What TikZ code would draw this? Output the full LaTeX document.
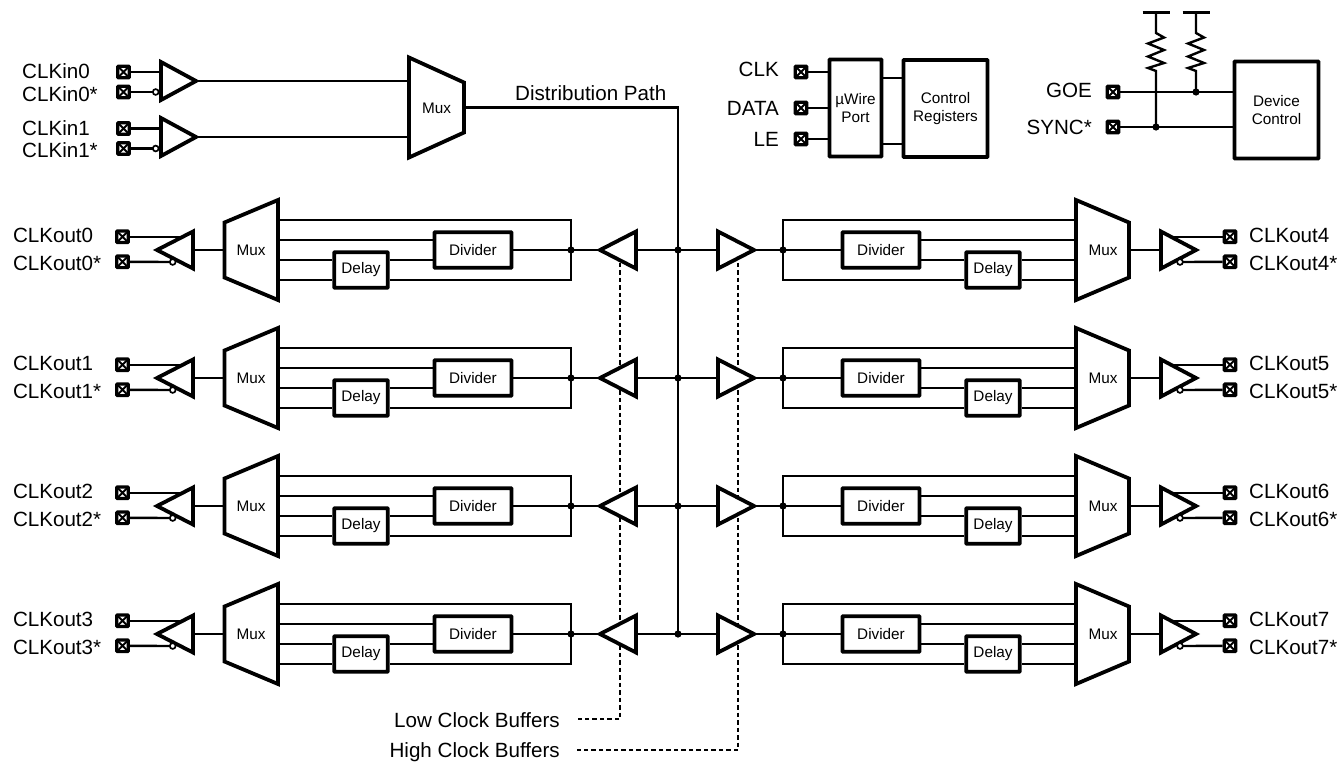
\documentclass[tikz,border=0pt]{standalone}
\usepackage{fontspec}
\setmainfont{Liberation Sans}
\tikzset{
  wire/.style={line width=2.4pt},
  dotted wire/.style={line width=2.7pt, dash pattern=on 4.5pt off 3pt},
  shape line/.style={line width=3.8pt, fill=white, line join=miter},
  bubble/.style={line width=1.7pt, fill=white},
  junction/.style={fill=black},
  lbl/.style={font=\fontsize{20.6}{20.6}\selectfont, inner sep=0pt},
  small/.style={font=\fontsize{15.3}{18.5}\selectfont, inner sep=0pt, align=center},
  block/.style={small, draw, line width=3.8pt, rounded corners=0.6pt},
  pad/.style={draw, line width=3.2pt, rounded corners=0.8pt, minimum size=11.6pt, inner sep=0pt,
    path picture={\draw[line width=1.9pt]
      (path picture bounding box.south west) -- (path picture bounding box.north east)
      (path picture bounding box.north west) -- (path picture bounding box.south east);}}
}
\begin{document}
\begin{tikzpicture}[x=1pt, y=-1pt]
  \useasboundingbox (0,0) rectangle (1340,761);

  % inputs
  \foreach \n/\ya/\yb/\yc/\ba/\bb in {0/72/92/81/78/101, 1/128.5/148.5/137/135/157} {
    \node[lbl, anchor=base west] (inlbl\n) at (22,\ba) {CLKin\n};
    \node[lbl, anchor=base west] (inlblb\n) at (22,\bb) {CLKin\n*};
    \node[pad] (inpad\n) at (123.5,\ya) {};
    \node[pad] (inpadb\n) at (123.5,\yb) {};
    \coordinate (intip\n) at (196,\yc);
    \coordinate (inbub\n) at (155.7,\yb);
    \draw[wire] (inpad\n) -- (161,\ya);
    \draw[wire] (inpadb\n) -- (inbub\n);
    \draw[wire] (intip\n) -- (409,\yc);
    \draw[shape line] (161,\yc-19) -- (intip\n) -- (161,\yc+19) -- cycle;
    \draw[bubble] (inbub\n) circle [radius=2.9];
  }
  \draw[shape line] (409,57.5) -- (464,82.5) -- (464,132.5) -- (409,157.5) -- cycle;
  \node[small] (muxin) at (436.5,108) {Mux};
  \coordinate (muxout) at (464,107.5);
  \coordinate (dist) at (678,107.5);
  \coordinate (distend) at (678,634);
  \draw[wire] (muxout) -- (dist) -- (distend);
  \node[lbl, anchor=base west] (distlbl) at (515,100) {Distribution Path};

  % uWire
  \node[block, minimum width=52pt, minimum height=97pt] (port) at (855.5,108) {µWire\\Port};
  \node[block, minimum width=84pt, minimum height=97pt] (ctrl) at (945.5,108.5) {Control\\Registers};
  \draw[wire] (port.east |- 0,78) -- (ctrl.west |- 0,78);
  \draw[wire] (port.east |- 0,144) -- (ctrl.west |- 0,144);
  \foreach \name/\y/\b in {CLK/72/76.7, DATA/108/115, LE/139/146.7} {
    \node[lbl, anchor=base east] (\name lbl) at (779,\b) {\name};
    \node[pad] (\name pad) at (801,\y) {};
    \draw[wire] (\name pad) -- (port.west |- \name pad);
  }

  % device control
  \node[block, minimum width=84pt, minimum height=97pt] (devctl) at (1276.5,110) {Device\\Control};
  \node[lbl, anchor=base east] (goelbl) at (1092,97) {GOE};
  \node[lbl, anchor=base east] (synclbl) at (1092,134.3) {SYNC*};
  \node[pad] (goepad) at (1113,92) {};
  \node[pad] (syncpad) at (1113,127) {};
  \draw[wire] (goepad) -- (devctl.west |- goepad);
  \draw[wire] (syncpad) -- (devctl.west |- syncpad);
  \foreach \x/\yend in {1156/127, 1196/92} {
    \draw[wire] (\x-13.5,12.3) -- (\x+13.5,12.3);
    \draw[wire, line join=miter] (\x,12.3) -- (\x,33) -- (\x+8,37.5) -- (\x-8,43.5) -- (\x+8,50)
      -- (\x-8,56.5) -- (\x+8,63) -- (\x-8,68) -- (\x,71) -- (\x,\yend);
    \fill[junction] (\x,\yend) circle [radius=3.6];
  }

  % dashed lines go under the buffers
  \coordinate (lowend) at (620,719);
  \coordinate (highend) at (738,750);
  \node[lbl, anchor=base east] (lowlbl) at (560,727) {Low Clock Buffers};
  \node[lbl, anchor=base east] (highlbl) at (560,757.5) {High Clock Buffers};
  \draw[dotted wire] (620,255) -- (lowend) -- (578,719);
  \draw[dotted wire] (738,255) -- (highend) -- (577,750);

  % the eight outputs
  \foreach \r/\s/\yc in {0/4/250, 1/5/378, 2/6/506, 3/7/634} {
    % left half
    \coordinate (mla\r) at (278,\yc-30);
    \coordinate (mlb\r) at (278,\yc-10);
    \coordinate (mlc\r) at (278,\yc+10);
    \coordinate (mld\r) at (278,\yc+30);
    \coordinate (jl\r) at (571,\yc);
    \coordinate (jc\r) at (678,\yc);
    \coordinate (bltip\r) at (600,\yc);
    \coordinate (blbub\r) at (172.7,\yc+12);
    \node[block, minimum width=77pt, minimum height=35.5pt] (divl\r) at (473,\yc) {Divider};
    \node[block, minimum width=53.5pt, minimum height=35.5pt] (dlyl\r) at (361,\yc+20) {Delay};
    \draw[wire] (mla\r) -| (jl\r) |- (mld\r -| dlyl\r.east);
    \draw[wire] (mlb\r) -- (mlb\r -| divl\r.west);
    \draw[wire] (mlc\r) -- (mlc\r -| dlyl\r.west);
    \draw[wire] (mld\r) -- (mld\r -| dlyl\r.west);
    \draw[wire] (mlc\r -| dlyl\r.east) -- (mlc\r -| divl\r.west);
    \draw[wire] (divl\r.east) -- (bltip\r);
    \draw[wire] (jc\r) -- (636,\yc);
    \fill[junction] (jl\r) circle [radius=3.6];
    \fill[junction] (jc\r) circle [radius=3.6];
    \draw[shape line] (636,\yc-18.5) -- (bltip\r) -- (636,\yc+18.5) -- cycle;
    \draw[wire] (224.5,\yc) -- (193,\yc);
    \node[pad] (oplt\r) at (122.5,\yc-13.3) {};
    \node[pad] (oplb\r) at (122.5,\yc+11.8) {};
    \draw[wire] (oplt\r) -- (183,\yc-13.3);
    \draw[wire] (oplb\r) -- (blbub\r);
    \draw[shape line] (193,\yc-18.5) -- (157,\yc) -- (193,\yc+18.5) -- cycle;
    \draw[bubble] (blbub\r) circle [radius=2.9];
    \draw[shape line] (224.5,\yc-27.5) -- (278,\yc-50) -- (278,\yc+50) -- (224.5,\yc+27.5) -- cycle;
    \node[small] (muxl\r) at (251,\yc) {Mux};
    \node[lbl, anchor=base west] (lblt\r) at (12.8,\yc-7.7) {CLKout\r};
    \node[lbl, anchor=base west] (lblb\r) at (12.8,\yc+20.5) {CLKout\r*};
    % right half
    \coordinate (mra\s) at (1076,\yc-30);
    \coordinate (mrb\s) at (1076,\yc-10);
    \coordinate (mrc\s) at (1076,\yc+10);
    \coordinate (mrd\s) at (1076,\yc+30);
    \coordinate (jr\s) at (783,\yc);
    \coordinate (brtip\s) at (754,\yc);
    \coordinate (brbub\s) at (1180,\yc+12);
    \node[block, minimum width=77pt, minimum height=35.5pt] (divr\s) at (881,\yc) {Divider};
    \node[block, minimum width=53.5pt, minimum height=35.5pt] (dlyr\s) at (993,\yc+20) {Delay};
    \draw[wire] (mra\s) -| (jr\s) |- (mrd\s -| dlyr\s.west);
    \draw[wire] (mrb\s) -- (mrb\s -| divr\s.east);
    \draw[wire] (mrc\s) -- (mrc\s -| dlyr\s.east);
    \draw[wire] (mrd\s) -- (mrd\s -| dlyr\s.east);
    \draw[wire] (mrc\s -| dlyr\s.west) -- (mrc\s -| divr\s.east);
    \draw[wire] (jc\r) -- (divr\s.west);
    \fill[junction] (jr\s) circle [radius=3.6];
    \draw[shape line] (718,\yc-18.5) -- (brtip\s) -- (718,\yc+18.5) -- cycle;
    \draw[wire] (1129,\yc) -- (1161,\yc);
    \node[pad] (oprt\s) at (1230,\yc-13.3) {};
    \node[pad] (oprb\s) at (1230,\yc+11.8) {};
    \draw[wire] (oprt\s) -- (1171,\yc-13.3);
    \draw[wire] (oprb\s) -- (brbub\s);
    \draw[shape line] (1161,\yc-18.5) -- (1196,\yc) -- (1161,\yc+18.5) -- cycle;
    \draw[bubble] (brbub\s) circle [radius=2.9];
    \draw[shape line] (1076,\yc-50) -- (1129,\yc-27.5) -- (1129,\yc+27.5) -- (1076,\yc+50) -- cycle;
    \node[small] (muxr\s) at (1103,\yc) {Mux};
    \node[lbl, anchor=base west] (lblt\s) at (1249,\yc-8) {CLKout\s};
    \node[lbl, anchor=base west] (lblb\s) at (1249,\yc+20.5) {CLKout\s*};
  }
\end{tikzpicture}
\end{document}
